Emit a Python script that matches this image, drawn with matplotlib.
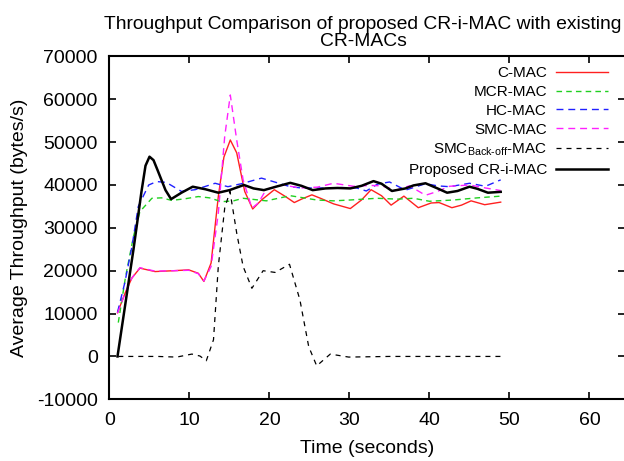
import matplotlib
matplotlib.use("Agg")
import matplotlib.pyplot as plt

plt.rcParams['font.family'] = ['Liberation Sans', 'DejaVu Sans']
plt.rcParams['mathtext.fontset'] = 'custom'
plt.rcParams['mathtext.rm'] = 'Liberation Sans'
plt.rcParams['axes.unicode_minus'] = False

# ---- data (time in seconds, throughput in bytes/s) ----
cmac_t = [1, 2, 2.8, 3.8, 5.7, 8, 9.9, 11.1, 11.8, 12.7, 13.6, 14.3, 15.1, 15.9, 16.9, 17.9,
          19, 20.6, 22, 23.1, 24, 25.3, 26.5, 28, 30.1, 31.5, 32.7, 34, 35.2, 36.8, 38.6,
          40.2, 41.2, 42.8, 44, 45.2, 46.9, 48.9]
cmac_v = [10200, 15000, 18300, 20600, 19800, 20000, 20200, 19400, 17500, 21800, 37300, 46500,
          50500, 47500, 38500, 34400, 36500, 38900, 37300, 35900, 36700, 37700, 36800, 35600,
          34500, 36500, 38900, 37500, 35300, 37400, 34700, 35800, 35900, 34700, 35300, 36300,
          35400, 36000]

mcr_t = [1.1, 2, 3, 3.8, 5.3, 6.5, 7.8, 9.5, 11.1, 12.5, 14, 15.5, 16.7, 19.6, 22.6, 25.9,
         28, 30.1, 33.4, 36, 38, 40, 43, 46, 48.9]
mcr_v = [7900, 18500, 28000, 33800, 36900, 37000, 36400, 36800, 37300, 37000, 36100, 36300,
         36900, 36300, 37500, 36500, 36300, 36500, 36900, 36700, 36900, 36200, 36500, 37000, 37400]

hc_t = [1, 1.9, 2.8, 3.6, 4.9, 5.9, 7.1, 9.0, 10.7, 13.2, 14.8, 16.5, 19, 21, 22.6, 24, 26.7,
        29, 30.9, 32.1, 33.5, 35, 37, 39.5, 41, 42.5, 45, 47, 48.9]
hc_v = [10300, 17100, 25600, 35000, 40000, 40800, 40600, 38500, 38900, 40400, 39600, 40300,
        41600, 40500, 39600, 39300, 39300, 39400, 39300, 38600, 40200, 40700, 38800, 40300,
        39800, 39600, 40400, 39700, 41200]

smc_t = [1, 2, 2.8, 3.8, 5.7, 8, 9.9, 11.1, 11.8, 12.7, 13.6, 14.4, 15.1, 15.9, 16.7, 17.8,
         18.6, 19.6, 21.7, 23.8, 26, 28, 30.5, 32.6, 34, 35.8, 37.5, 39.5, 41, 42.5, 45, 47, 48.9]
smc_v = [10100, 15000, 18300, 20700, 19900, 20000, 20100, 19300, 17600, 21000, 33400, 51300,
         61000, 50500, 41200, 34600, 35800, 39000, 40000, 39300, 39500, 40400, 39700, 39900,
         39800, 38800, 39800, 37600, 38500, 39700, 40000, 39300, 38700]

smcb_t = [1.1, 4, 6, 8.4, 10.3, 11.3, 12.1, 13.0, 13.6, 14.4, 15.06, 15.9, 16.7, 17.8, 19.2,
          20.7, 22.5, 23.8, 24.9, 25.9, 27.6, 29.9, 35, 40, 45, 48.9]
smcb_v = [0, 0, 0, -150, 550, 100, -1000, 3900, 21000, 34600, 38500, 28800, 21000, 15900,
          20000, 19600, 21500, 13200, 2300, -2200, 550, -150, 0, 0, 0, 0]

cri_t = [1.0, 2, 3, 4, 4.5, 5, 5.5, 6, 7, 7.7, 9, 10.4, 12, 13.6, 15, 16.8, 18, 19.3, 21, 22.6,
         24, 25.4, 27, 28.5, 30.1, 31.5, 33, 34, 35.3, 37, 38, 39.5, 41, 42.2, 43.5, 45, 46,
         47.3, 48.9]
cri_v = [0, 12500, 25000, 38500, 44500, 46600, 45800, 43500, 38800, 36700, 38200, 39600, 39000,
         38200, 38800, 40000, 39200, 38800, 39700, 40500, 39800, 38800, 39200, 39300, 39200,
         39800, 40900, 40300, 38600, 39200, 39900, 40400, 39200, 38200, 38600, 39600, 39100,
         38200, 38400]

labels = ['C-MAC', 'MCR-MAC', 'HC-MAC', 'SMC-MAC',
          'SMC$_{\\mathregular{Back\u2010off}}$-MAC', 'Proposed CR-i-MAC']

x_ticks = [0, 10, 20, 30, 40, 50, 60]
y_ticks = [-10000, 0, 10000, 20000, 30000, 40000, 50000, 60000, 70000]

W, H = 624, 461
fig = plt.figure(figsize=(W / 100, H / 100), dpi=100)
ax = fig.add_axes([109.5 / W, (H - 399.3) / H, 516 / W, (399.3 - 56.4) / H])

ax.plot(cmac_t, cmac_v, color='#ff2020', lw=1.0, label=labels[0])
ax.plot(mcr_t, mcr_v, color='#20d020', lw=1.0, dashes=(4, 3), label=labels[1])
ax.plot(hc_t, hc_v, color='#2020ff', lw=1.0, dashes=(5, 3.5), label=labels[2])
ax.plot(smc_t, smc_v, color='#ff20ff', lw=1.0, dashes=(5, 3.5), label=labels[3])
ax.plot(smcb_t, smcb_v, color='black', lw=0.9, dashes=(4, 4), label=labels[4])
ax.plot(cri_t, cri_v, color='black', lw=1.8, label=labels[5])

ax.set_xlim(0, 64.5)
ax.set_ylim(-10000, 70000)
ax.set_xticks(x_ticks)
ax.set_yticks(y_ticks)
ax.tick_params(direction='in', length=5, width=1.2, labelsize=14,
               top=True, right=True)
ax.tick_params(axis='x', pad=9)
ax.tick_params(axis='y', pad=8.5)
for s in ax.spines.values():
    s.set_linewidth(1.5)

ax.set_xlabel('Time (seconds)', fontsize=14, labelpad=8)
ax.set_ylabel('Average Throughput (bytes/s)', fontsize=14, labelpad=6)
ax.set_title('Throughput Comparison of proposed CR-i-MAC with existing\nCR-MACs',
             fontsize=13.9, pad=7.5, linespacing=1.0, x=(363 - 109.5) / 516)

leg = ax.legend(loc='upper right', bbox_to_anchor=(608 / W, 1 - 66 / H),
                bbox_transform=fig.transFigure, frameon=False, markerfirst=False,
                fontsize=11, handlelength=3.4, handletextpad=0.6, labelspacing=0.32,
                borderpad=0, borderaxespad=0)
for t in leg.get_texts():
    t.set_ha('right')

fig.savefig('out.png', dpi=100)
